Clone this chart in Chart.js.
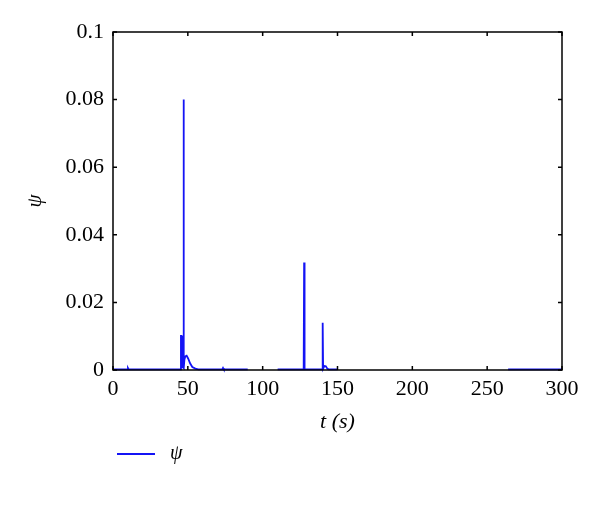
<!DOCTYPE html>
<html>
<head>
<meta charset="utf-8">
<script src="https://cdn.jsdelivr.net/npm/chart.js@4/dist/chart.umd.min.js"></script>
<style>
  body { margin: 0; background: #fff; }
  #wrap { width: 600px; height: 507px; }
</style>
</head>
<body>
<div id="wrap"><canvas id="psi_chart" width="600" height="507"></canvas></div>
<script>
// koha (s) dhe vlerat e psi te lexuara nga figura
const timeValues = [0, 9.5, 10, 10.5, 45, 45.4, 45.7, 46.1, 46.8, 47.1, 47.4, 47.7, 48.3, 49.2, 50.2, 51.5, 53, 55, 57, 73, 73.5, 74, 90,
  90.5, 110, 127.4, 127.7, 128, 139.8, 140.1, 140.4, 141.3, 142.2, 143.2, 144, 150, 150.5, 264, 300];
const psiValues = [0.0002, 0.0002, 0.0006, 0.0002, 0.0002, 0.0101, 0.0101, 0.0008, 0.0008, 0.0800, 0.0006, 0.0030, 0.0040, 0.0042, 0.0034, 0.0020, 0.0009, 0.0004, 0.0002, 0.0002, 0.0006, 0.0002, 0.0002,
  null, 0.0002, 0.0002, 0.0318, 0.0002, 0.0002, 0.0140, 0.0004, 0.0012, 0.0011, 0.0004, 0.0002, 0.0002, null, 0.0002, 0.0002];
const xTicks = [0, 50, 100, 150, 200, 250, 300];
const yTicks = [0, 0.02, 0.04, 0.06, 0.08, 0.1];

const points = timeValues.map(function (t, i) { return { x: t, y: psiValues[i] }; });

// vizaton vijat e vogla te ndarjeve nga brenda kutise, ne te kater anet
const insideTicks = {
  id: 'insideTicks',
  afterLayout: function (chart) {
    // legjenda zhvendoset djathtas, poshte grafikut si ne figure
    chart.legend.left += 108;
    chart.legend.right += 108;
  },
  afterDraw: function (chart) {
    const ctx = chart.ctx;
    const a = chart.chartArea;
    const xs = chart.scales.x, ys = chart.scales.y;
    const len = 4;
    ctx.save();
    ctx.strokeStyle = '#000';
    ctx.lineWidth = 1.5;
    ctx.beginPath();
    xs.ticks.forEach(function (tk) {
      const px = xs.getPixelForValue(tk.value);
      ctx.moveTo(px, a.bottom); ctx.lineTo(px, a.bottom - len);
      ctx.moveTo(px, a.top); ctx.lineTo(px, a.top + len);
    });
    ys.ticks.forEach(function (tk) {
      const py = ys.getPixelForValue(tk.value);
      ctx.moveTo(a.left, py); ctx.lineTo(a.left + len, py);
      ctx.moveTo(a.right, py); ctx.lineTo(a.right - len, py);
    });
    ctx.stroke();
    ctx.strokeRect(a.left, a.top, a.right - a.left, a.bottom - a.top);
    ctx.restore();
  }
};

const serif = "'Liberation Serif', 'DejaVu Serif', serif";

const config = {
  type: 'line',
  data: {
    datasets: [{
      label: ' ψ',
      data: points,
      borderColor: 'rgb(20, 20, 245)',
      backgroundColor: 'rgb(20, 20, 245)',
      borderWidth: 1.8,
      pointRadius: 0,
      pointStyle: 'line',
      tension: 0,
      spanGaps: false,
      clip: false
    }]
  },
  options: {
    responsive: false,
    animation: false,
    layout: { padding: { left: 0, right: 38, top: 32, bottom: 33 } },
    scales: {
      x: {
        type: 'linear',
        min: 0, max: 300,
        afterBuildTicks: function (s) { s.ticks = xTicks.map(function (v) { return { value: v }; }); },
        afterFit: function (s) { s.height = 65; },
        grid: { display: false, drawTicks: false },
        border: { display: false },
        ticks: { color: '#000', padding: 6, maxRotation: 0, font: { family: serif, size: 22 } },
        title: {
          display: true,
          text: 't (s)',
          color: '#000',
          padding: { top: 0, bottom: 0 },
          font: { family: serif, size: 22, style: 'italic' }
        }
      },
      y: {
        min: 0, max: 0.1,
        afterBuildTicks: function (s) { s.ticks = yTicks.map(function (v) { return { value: v }; }); },
        afterFit: function (s) { s.width = 113; },
        grid: { display: false, drawTicks: false },
        border: { display: false },
        ticks: {
          color: '#000', padding: 9, font: { family: serif, size: 22 },
          callback: function (v) { return String(Math.round(v * 100) / 100); }
        },
        title: {
          display: true,
          text: 'ψ',
          color: '#000',
          padding: { top: 23, bottom: 0 },
          font: { family: serif, size: 21, style: 'italic' }
        }
      }
    },
    plugins: {
      title: { display: false },
      tooltip: { enabled: false },
      legend: {
        display: true,
        position: 'bottom',
        align: 'start',
        labels: {
          color: '#000',
          usePointStyle: true,
          pointStyleWidth: 38,
          padding: 9,
          font: { family: serif, size: 20, style: 'italic' }
        }
      }
    }
  },
  plugins: [insideTicks]
};

var myChart = new Chart(document.getElementById('psi_chart'), config);
</script>
</body>
</html>
